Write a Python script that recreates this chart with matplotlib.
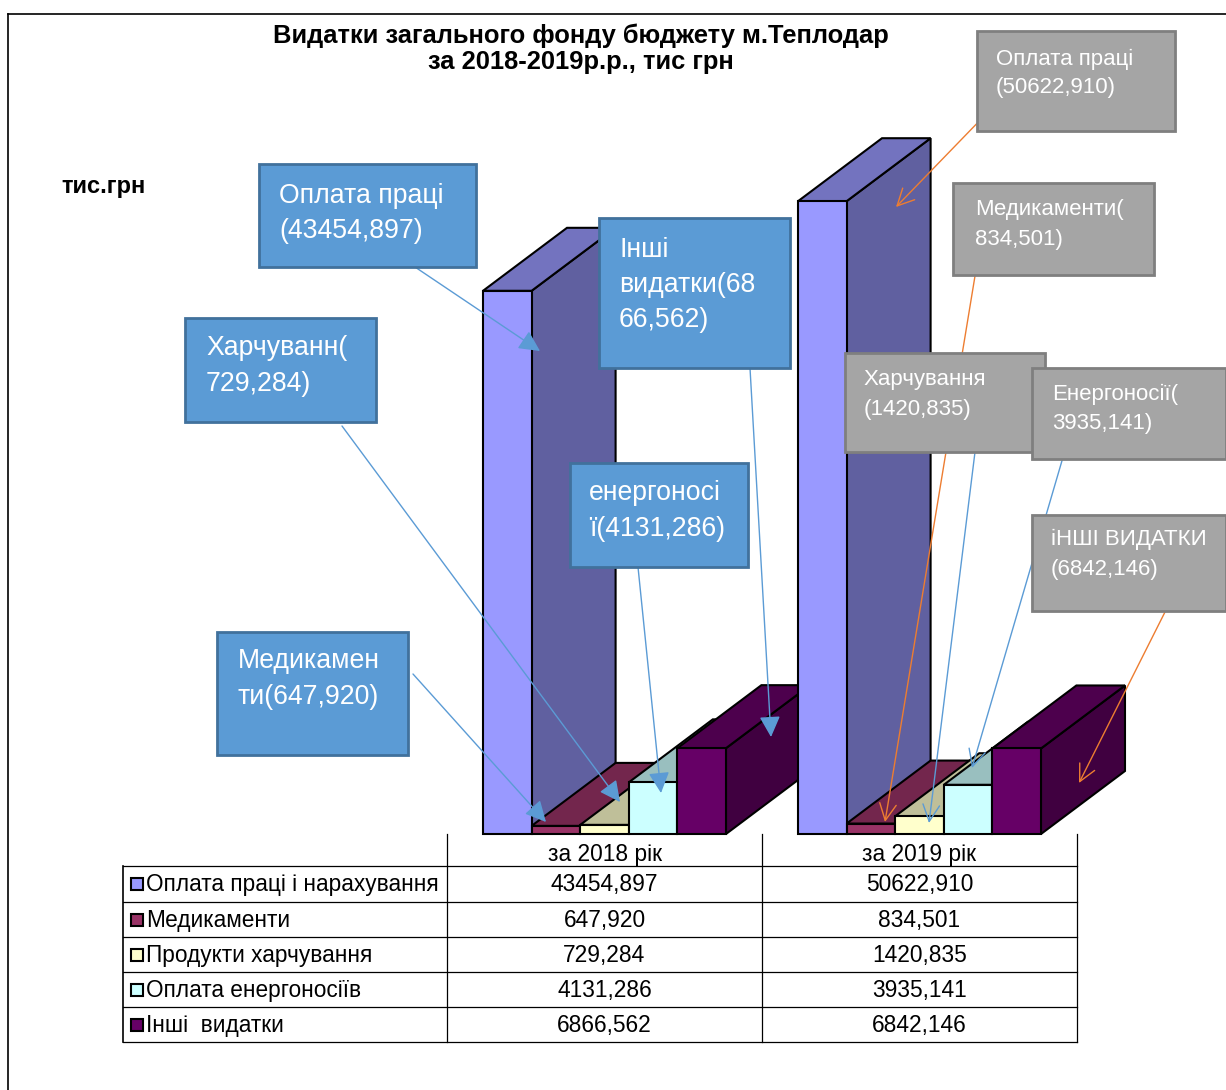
import matplotlib
matplotlib.use("Agg")
import matplotlib.pyplot as plt
from matplotlib.patches import Polygon, Rectangle
from matplotlib.colors import to_rgb

plt.rcParams['font.family'] = ['Liberation Sans', 'DejaVu Sans']

# ---- data ----
years = ["за 2018 рік", "за 2019 рік"]
series = ["Оплата праці і нарахування", "Медикаменти", "Продукти харчування",
          "Оплата енергоносіїв", "Інші  видатки"]
values_2018 = [43454.897, 647.920, 729.284, 4131.286, 6866.562]
values_2019 = [50622.910, 834.501, 1420.835, 3935.141, 6842.146]
colors = ["#9999FF", "#993366", "#FFFFCC", "#CCFFFF", "#660066"]
title = "Видатки загального фонду бюджету м.Теплодар\nза 2018-2019р.р., тис грн"
unit = "тис.грн"

W, H = 1226, 1090
fig = plt.figure(figsize=(W / 100, H / 100), dpi=100, facecolor="white")


def shade(c, f):
    return tuple(v * f for v in to_rgb(c))


# ---- overlay in pixel coordinates ----
ov = fig.add_axes([0, 0, 1, 1], zorder=1)
ov.set_xlim(0, W)
ov.set_ylim(H, 0)
ov.axis("off")

# ---- chart axes: the value scale is 0.0125 px per unit ----
AL, AR, AB, AT = 447, 1077, 834, 84
ax = fig.add_axes([AL / W, 1 - AB / H, (AR - AL) / W, (AB - AT) / H], zorder=2)
ax.set_xlim(-0.5, 1.5)
ax.set_ylim(0, 60000)
ax.axis("off")
ax.patch.set_alpha(0)

bar_w = 48.6 / 315
depth_x = 84 / 315
depth_y = 63 * 60000 / 750
edge = dict(edgecolor="black", linewidth=1.5, joinstyle="miter", clip_on=False)

for g, vals in enumerate([values_2018, values_2019]):
    x0 = g - bar_w * len(vals) / 2
    for i, (v, c) in enumerate(zip(vals, colors)):
        l, r = x0 + i * bar_w, x0 + (i + 1) * bar_w
        ax.add_patch(Polygon([(r, 0), (r + depth_x, depth_y), (r + depth_x, v + depth_y), (r, v)],
                             facecolor=shade(c, 0.627), **edge))
        ax.add_patch(Polygon([(l, v), (l + depth_x, v + depth_y), (r + depth_x, v + depth_y), (r, v)],
                             facecolor=shade(c, 0.75), **edge))
        ax.add_patch(Rectangle((l, 0), bar_w, v, facecolor=c, **edge))

# ---- callouts and arrows above the bars ----
top = fig.add_axes([0, 0, 1, 1], zorder=3)
top.set_xlim(0, W)
top.set_ylim(H, 0)
top.axis("off")
top.patch.set_alpha(0)

BLUE, ORANGE = "#5B9BD5", "#ED7D31"
arrows = [
    ((415, 267), (540, 351), BLUE, "-|>"),
    ((342, 426), (620, 802), BLUE, "-|>"),
    ((413, 674), (546, 822), BLUE, "-|>"),
    ((750, 368), (771, 737), BLUE, "-|>"),
    ((638, 567), (661, 793), BLUE, "-|>"),
    ((989, 111), (896, 207), ORANGE, "->"),
    ((975, 276), (885, 822), ORANGE, "->"),
    ((975, 452), (929, 823), BLUE, "->"),
    ((1066, 447), (972, 768), BLUE, "->"),
    ((1165, 612), (1079, 783), ORANGE, "->"),
]
for a, b, col, style in arrows:
    top.annotate("", xy=b, xytext=a, zorder=3,
                 arrowprops=dict(arrowstyle=style, color=col, lw=1.0, shrinkA=0, shrinkB=0,
                                 mutation_scale=32 if style == "-|>" else 30))

blue_boxes = [
    (259, 164, 476, 267, 279, ["Оплата праці", "(43454,897)"], [196, 231]),
    (185, 318, 376, 422, 206, ["Харчуванн(", "729,284)"], [348, 384]),
    (217, 632, 408, 755, 238, ["Медикамен", "ти(647,920)"], [661, 697]),
    (599, 218, 790, 368, 619, ["Інші", "видатки(68", "66,562)"], [250, 285, 320]),
    (570, 463, 748, 567, 589, ["енергоносі", "ї(4131,286)"], [493, 529]),
]
gray_boxes = [
    (977, 31, 1175, 131, 996, ["Оплата праці", "(50622,910)"], [59, 87]),
    (953, 183, 1154, 275, 975, ["Медикаменти(", "834,501)"], [209, 239]),
    (845, 353, 1045, 452, 864, ["Харчування", "(1420,835)"], [380, 409]),
    (1032, 368, 1226, 459, 1052, ["Енергоносії(", "3935,141)"], [394, 423]),
    (1032, 515, 1226, 611, 1051, ["іНШІ ВИДАТКИ", "(6842,146)"], [539, 569]),
]
for boxes, fc, ec, fs in [(blue_boxes, "#5B9BD5", "#41719C", 19.2),
                          (gray_boxes, "#A5A5A5", "#7F7F7F", 16.0)]:
    for x1, y1, x2, y2, tx, lines, ys in boxes:
        top.add_patch(Rectangle((x1, y1), x2 - x1, y2 - y1, facecolor=fc, edgecolor=ec,
                                linewidth=2, zorder=4, clip_on=False))
        for s, y in zip(lines, ys):
            top.text(tx, y, s, color="white", fontsize=fs, va="center", ha="left", zorder=5)

# ---- titles, frame ----
ov.plot([8, 8], [H, 14], color="black", lw=1.2)
ov.plot([8, W], [14, 14], color="black", lw=1.2)
ov.text(581, 49, title, ha="center", va="center", fontsize=18.4, fontweight="bold",
        linespacing=1.1, color="black")
ov.text(61, 187, unit, ha="left", va="center", fontsize=17, fontweight="bold", color="black")

# ---- data table ----
row_y = [866, 902, 937, 972, 1007, 1042]
col_x = [447, 762, 1077]
for y in row_y:
    ov.plot([123, 1077], [y, y], color="black", lw=0.9)
ov.plot([123, 123], [866, 1042], color="black", lw=1.2)
for x in col_x:
    ov.plot([x, x], [834, 1042], color="black", lw=0.9)
for j, yr in enumerate(years):
    ov.text((col_x[j] + col_x[j + 1]) / 2, 855, yr, ha="center", va="center", fontsize=16.4)
for i, name in enumerate(series):
    yc = (row_y[i] + row_y[i + 1]) / 2
    ov.add_patch(Rectangle((131, yc - 6), 12, 12, facecolor=colors[i], edgecolor="black", linewidth=1.5))
    ov.text(146, yc + 1, name, ha="left", va="center", fontsize=16.3)
    for j, vals in enumerate([values_2018, values_2019]):
        ov.text((col_x[j] + col_x[j + 1]) / 2, yc + 1, f"{vals[i]:.3f}".replace(".", ","),
                ha="center", va="center", fontsize=16.4)

fig.savefig("out.png", dpi=100)
